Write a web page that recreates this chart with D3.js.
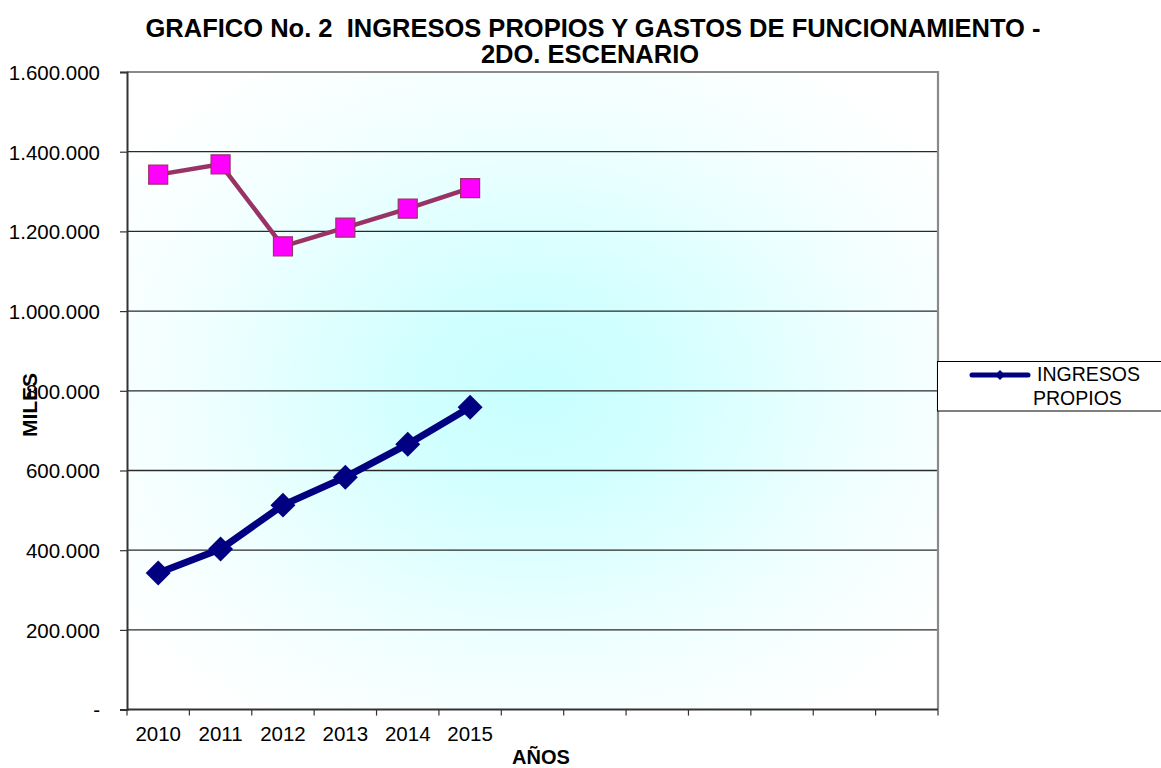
<!DOCTYPE html>
<html>
<head>
<meta charset="utf-8">
<script src="https://cdn.jsdelivr.net/npm/d3@7"></script>
<style>
  html, body { margin: 0; padding: 0; background: #ffffff; }
  svg { display: block; font-family: "Liberation Sans", Arial, Helvetica, sans-serif; }
</style>
</head>
<body>
<svg id="chart" width="1161" height="768"></svg>
<script>
// ---- data ----
const titleLines = ["GRAFICO No. 2  INGRESOS PROPIOS Y GASTOS DE FUNCIONAMIENTO -", "2DO. ESCENARIO"];
const years = ["2010", "2011", "2012", "2013", "2014", "2015"];
const slotCount = 13; // category slots on the axis (only the first six are labelled)
const ingresosPropios = [342600, 402800, 513100, 583300, 666100, 758900];
const gastosFuncionamiento = [1342400, 1368300, 1162600, 1209500, 1257200, 1308800];
const yTicks = [0, 200000, 400000, 600000, 800000, 1000000, 1200000, 1400000, 1600000];
const yTitle = "MILES";
const xTitle = "AÑOS";
const legendLabel = ["INGRESOS", "PROPIOS"];

// ---- layout ----
const plot = { left: 127, right: 938, top: 72, bottom: 709.6 };
const svg = d3.select("#chart");

const x = d3.scaleBand().domain(d3.range(slotCount)).range([plot.left, plot.right]).padding(0);
const y = d3.scaleLinear().domain([0, 1600000]).range([plot.bottom, plot.top]);

const esLocale = d3.formatLocale({ decimal: ",", thousands: ".", grouping: [3], currency: ["$", ""] });
const fmt = esLocale.format(",.0f");
const yFmt = v => v === 0 ? "-" : fmt(v);

// background gradient
const defs = svg.append("defs");
const grad = defs.append("radialGradient").attr("id", "bg")
  .attr("cx", 0.5).attr("cy", 0.5).attr("r", 0.62).attr("fx", 0.5).attr("fy", 0.5);
grad.append("stop").attr("offset", "0%").attr("stop-color", "#c8ffff");
grad.append("stop").attr("offset", "25%").attr("stop-color", "#d2ffff");
grad.append("stop").attr("offset", "70%").attr("stop-color", "#f2ffff");
grad.append("stop").attr("offset", "100%").attr("stop-color", "#ffffff");

svg.append("rect")
  .attr("x", plot.left).attr("y", plot.top)
  .attr("width", plot.right - plot.left).attr("height", plot.bottom - plot.top)
  .attr("fill", "url(#bg)");

// gridlines
svg.append("g").selectAll("line")
  .data(yTicks.filter(v => v > 0 && v < 1600000))
  .join("line")
  .attr("x1", plot.left).attr("x2", plot.right)
  .attr("y1", d => y(d)).attr("y2", d => y(d))
  .attr("stroke", "#2a2a2a").attr("stroke-width", 1.3);

// top & right border
svg.append("path")
  .attr("d", `M${plot.left},${plot.top}H${plot.right}V${plot.bottom}`)
  .attr("fill", "none").attr("stroke", "#8a8a8a").attr("stroke-width", 2.2);

// y axis
const yAxis = d3.axisLeft(y).tickValues(yTicks).tickFormat(yFmt).tickSize(7).tickPadding(20);
const gy = svg.append("g").attr("transform", `translate(${plot.left},0)`).call(yAxis);
gy.select(".domain").attr("stroke", "#333").attr("stroke-width", 2);
gy.selectAll(".tick line").attr("stroke", "#333").attr("stroke-width", 1.2);
gy.selectAll(".tick text").attr("font-size", "20.5px").attr("fill", "#000")
  .attr("font-family", "'Liberation Sans', Arial, sans-serif").attr("dy", "0.36em");

// x axis: ticks at slot boundaries
const boundaries = d3.range(slotCount + 1).map(i => plot.left + i * x.bandwidth());
const gx = svg.append("g");
gx.append("line").attr("x1", plot.left).attr("x2", plot.right)
  .attr("y1", plot.bottom).attr("y2", plot.bottom)
  .attr("stroke", "#333").attr("stroke-width", 2);
gx.selectAll("line.tk").data(boundaries).join("line").attr("class", "tk")
  .attr("x1", d => d).attr("x2", d => d)
  .attr("y1", plot.bottom).attr("y2", plot.bottom + 6)
  .attr("stroke", "#333").attr("stroke-width", 1.2);
gx.selectAll("text").data(years).join("text")
  .attr("x", (d, i) => x(i) + x.bandwidth() / 2)
  .attr("y", 741)
  .attr("text-anchor", "middle")
  .attr("font-size", "20.5px").attr("fill", "#000")
  .text(d => d);

// lines
const line = d3.line().x((d, i) => x(i) + x.bandwidth() / 2).y(d => y(d));

svg.append("path").datum(gastosFuncionamiento)
  .attr("d", line).attr("fill", "none")
  .attr("stroke", "#993366").attr("stroke-width", 4.5).attr("stroke-linejoin", "round");

svg.append("g").selectAll("path").data(gastosFuncionamiento).join("path")
  .attr("d", d3.symbol(d3.symbolSquare, 361))
  .attr("transform", (d, i) => `translate(${x(i) + x.bandwidth() / 2},${y(d)})`)
  .attr("fill", "#ff00ff").attr("stroke", "#993366").attr("stroke-width", 1.2);

svg.append("path").datum(ingresosPropios)
  .attr("d", line).attr("fill", "none")
  .attr("stroke", "#000080").attr("stroke-width", 7).attr("stroke-linejoin", "round");

svg.append("g").selectAll("path").data(ingresosPropios).join("path")
  .attr("d", d3.symbol(d3.symbolSquare, 312))
  .attr("transform", (d, i) => `translate(${x(i) + x.bandwidth() / 2},${y(d)}) rotate(45)`)
  .attr("fill", "#000080");

// titles
const t = svg.append("text").attr("text-anchor", "middle")
  .attr("font-weight", "bold").attr("font-size", "25.5px").attr("fill", "#000")
  .style("white-space", "pre");
t.append("tspan").attr("x", 593).attr("y", 37).text(titleLines[0]);
t.append("tspan").attr("x", 590).attr("y", 63).text(titleLines[1]);

svg.append("text")
  .attr("transform", "translate(37,405) rotate(-90)")
  .attr("text-anchor", "middle").attr("font-weight", "bold").attr("font-size", "21px")
  .attr("fill", "#000").text(yTitle);

svg.append("text")
  .attr("x", 541).attr("y", 764)
  .attr("text-anchor", "middle").attr("font-weight", "bold").attr("font-size", "20px")
  .attr("fill", "#000").text(xTitle);

// legend
const lg = svg.append("g");
lg.append("rect").attr("x", 937.5).attr("y", 361.5).attr("width", 240).attr("height", 49.5)
  .attr("fill", "#fff").attr("stroke", "#000").attr("stroke-width", 1);
lg.append("line").attr("x1", 972).attr("x2", 1028).attr("y1", 375).attr("y2", 375)
  .attr("stroke", "#000080").attr("stroke-width", 5).attr("stroke-linecap", "round");
lg.append("path").attr("d", d3.symbol(d3.symbolSquare, 50))
  .attr("transform", "translate(1000,375) rotate(45)").attr("fill", "#000080");
lg.append("text").attr("x", 1037).attr("y", 380.5).attr("font-size", "19.5px").attr("fill", "#000").text(legendLabel[0]);
lg.append("text").attr("x", 1033).attr("y", 404.5).attr("font-size", "19.5px").attr("fill", "#000").text(legendLabel[1]);
</script>
</body>
</html>
